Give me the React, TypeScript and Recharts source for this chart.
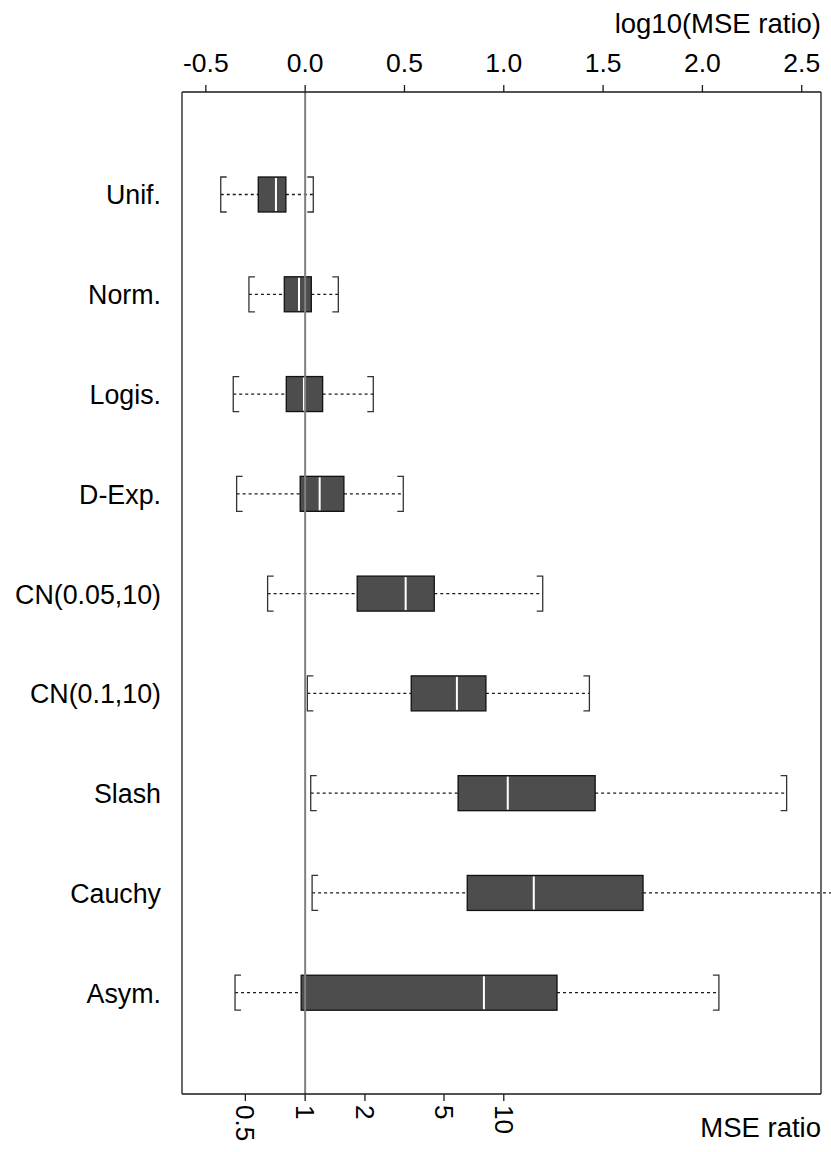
import React from 'react';
import { ComposedChart, Bar, XAxis, YAxis, ReferenceLine } from 'recharts';

const distributions = ['Unif.', 'Norm.', 'Logis.', 'D-Exp.', 'CN(0.05,10)', 'CN(0.1,10)', 'Slash', 'Cauchy', 'Asym.'];
const whiskerLow = [-0.425, -0.283, -0.362, -0.345, -0.189, 0.011, 0.028, 0.035, -0.353];
const quartile1 = [-0.236, -0.105, -0.095, -0.025, 0.262, 0.534, 0.77, 0.816, -0.02];
const medians = [-0.147, -0.031, -0.006, 0.073, 0.506, 0.764, 1.02, 1.151, 0.9];
const quartile3 = [-0.097, 0.031, 0.088, 0.195, 0.65, 0.91, 1.46, 1.701, 1.268];
const whiskerHigh = [0.041, 0.167, 0.343, 0.494, 1.196, 1.431, 2.424, 3.0, 2.083];

const topTicks = [-0.5, 0, 0.5, 1, 1.5, 2, 2.5];
const ratioTicks = [0.5, 1, 2, 5, 10];
const ratioTickLabels = ['0.5', '1', '2', '5', '10'];
const logDomain: [number, number] = [-0.62, 2.597];

const data = distributions.map((name, i) => ({
  name,
  lo: whiskerLow[i],
  med: medians[i],
  hi: whiskerHigh[i],
  box: [quartile1[i], quartile3[i]],
}));

const FONT = '"Liberation Sans", Arial, Helvetica, sans-serif';
const INK = '#1a1a1a';

const BoxShape = (props: any) => {
  const { x, y, width, height, payload } = props;
  const [q1, q3] = payload.box;
  const k = width / (q3 - q1);
  const px = (v: number) => x + (v - q1) * k;
  const cy = y + height / 2;
  const xl = px(payload.lo);
  const xh = px(payload.hi);
  const xm = px(payload.med);
  const arm = 6;
  return (
    <g>
      <line x1={xl} y1={cy} x2={x} y2={cy} stroke={INK} strokeWidth={1.3} strokeDasharray="3 3" />
      <line x1={x + width} y1={cy} x2={xh} y2={cy} stroke={INK} strokeWidth={1.3} strokeDasharray="3 3" />
      <polyline points={`${xl + arm},${y} ${xl},${y} ${xl},${y + height} ${xl + arm},${y + height}`} fill="none" stroke="#333" strokeWidth={1.3} />
      <polyline points={`${xh - arm},${y} ${xh},${y} ${xh},${y + height} ${xh - arm},${y + height}`} fill="none" stroke="#333" strokeWidth={1.3} />
      <rect x={x} y={y} width={width} height={height} fill="#4d4d4d" stroke="#111" strokeWidth={1.3} />
      <line x1={xm} y1={y + 1} x2={xm} y2={y + height - 1} stroke="#ffffff" strokeWidth={2} />
    </g>
  );
};

const CategoryTick = (props: any) => {
  const { x, y, payload } = props;
  return (
    <text x={x} y={y} dy="0.355em" textAnchor="end" fontSize={26.8} fontFamily={FONT} fill="#000">
      {payload.value}
    </text>
  );
};

const RatioTick = (props: any) => {
  const { x, y, payload, index } = props;
  const idx = ratioTicks.findIndex((r) => Math.abs(Math.log10(r) - payload.value) < 1e-9);
  const label = ratioTickLabels[idx >= 0 ? idx : index];
  return (
    <g transform={`translate(${x},${y})`}>
      <text x={0} y={0} dy="0.35em" transform="rotate(90)" textAnchor="start" fontSize={26} fontFamily={FONT} fill="#000">
        {label}
      </text>
    </g>
  );
};

const TopTitle = (props: any) => {
  const vb = props.viewBox || {};
  return (
    <text x={vb.x + vb.width} y={vb.y + 33} textAnchor="end" fontSize={27.5} fontFamily={FONT} fill="#000">
      log10(MSE ratio)
    </text>
  );
};

const BottomTitle = (props: any) => {
  const vb = props.viewBox || {};
  return (
    <text x={vb.x + vb.width} y={vb.y + 43} textAnchor="end" fontSize={27.5} fontFamily={FONT} fill="#000">
      MSE ratio
    </text>
  );
};

export default function App() {
  return (
    <div style={{ position: 'absolute', left: 0, top: 0, width: 831, height: 1152, overflow: 'hidden', background: '#fff' }}>
      <ComposedChart
        width={831}
        height={1152}
        data={data}
        layout="vertical"
        margin={{ top: 0, right: 0, bottom: 0, left: 0 }}
      >
        <XAxis
          xAxisId="top"
          orientation="top"
          type="number"
          domain={logDomain}
          ticks={topTicks}
          interval={0}
          height={92}
          tickSize={7}
          tickMargin={13}
          tickFormatter={(v: number) => v.toFixed(1)}
          tick={{ fill: '#000', fontSize: 26.5, fontFamily: FONT }}
          axisLine={{ stroke: INK, strokeWidth: 1.3 }}
          tickLine={{ stroke: INK, strokeWidth: 1.3 }}
          label={<TopTitle />}
        />
        <XAxis
          xAxisId="bottom"
          orientation="bottom"
          type="number"
          domain={logDomain}
          allowDataOverflow
          ticks={ratioTicks.map((r) => Math.log10(r))}
          interval={0}
          height={58}
          tickSize={7}
          tickMargin={4}
          tick={<RatioTick />}
          axisLine={{ stroke: INK, strokeWidth: 1.3 }}
          tickLine={{ stroke: INK, strokeWidth: 1.3 }}
          label={<BottomTitle />}
        />
        <YAxis
          yAxisId="left"
          type="category"
          dataKey="name"
          width={182}
          padding={{ top: 53, bottom: 51 }}
          tickSize={0}
          tickMargin={21}
          tickLine={false}
          tick={<CategoryTick />}
          interval={0}
          axisLine={{ stroke: INK, strokeWidth: 1.3 }}
        />
        <YAxis
          yAxisId="right"
          orientation="right"
          type="category"
          dataKey="name"
          width={10}
          padding={{ top: 53, bottom: 51 }}
          tick={false}
          tickLine={false}
          axisLine={{ stroke: INK, strokeWidth: 1.3 }}
        />
        <Bar
          xAxisId="top"
          yAxisId="left"
          dataKey="box"
          barSize={35}
          shape={<BoxShape />}
          isAnimationActive={false}
        />
        <ReferenceLine xAxisId="top" yAxisId="left" x={0} stroke="#808080" strokeWidth={2} />
      </ComposedChart>
    </div>
  );
}
